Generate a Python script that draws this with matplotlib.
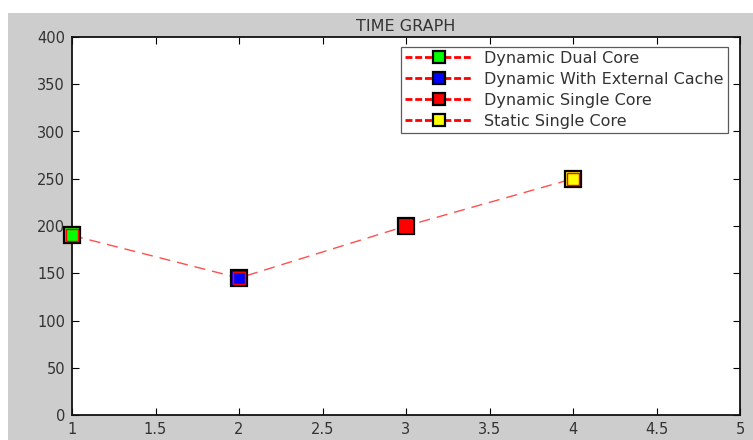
import matplotlib.pyplot as plt
import matplotlib.patches as patches

# data #########################################################################

cores = [1, 2, 3, 4]
times = [190, 145, 200, 250]
labels = ["Dynamic Dual Core", "Dynamic With External Cache",
          "Dynamic Single Core", "Static Single Core"]
colors = ["#00ff00", "#0000ff", "#ff0000", "#ffff00"]

xticks = [1, 1.5, 2, 2.5, 3, 3.5, 4, 4.5, 5]
xticklabels = ["1", "1.5", "2", "2.5", "3", "3.5", "4", "4.5", "5"]
yticks = list(range(0, 401, 50))

################################################################################

plt.rcParams["font.family"] = ["DejaVu Sans"]

figure = plt.figure(figsize=(7.53, 4.40), dpi=100)
figure.patch.set_facecolor("white")
# matlab style gray window background
figure.patches.append(patches.Rectangle((8 / 753, 0), 1, 1 - 13 / 440,
                                        transform=figure.transFigure,
                                        facecolor="#cdcdcd", edgecolor="none",
                                        zorder=-10))

ax = figure.add_axes([72 / 753, 25 / 440, 668 / 753, 378 / 440])
ax.set_facecolor("white")

textColor = "#333333"
ax.plot(cores, times, color="#ff3030", linestyle="--", dashes=(8, 5),
        linewidth=1.0, alpha=0.85, zorder=2)

for x, y, label, color in zip(cores, times, labels, colors):
  # outer marker, this one goes to the legend
  ax.plot([x], [y], color="red", linestyle="--", dashes=(2.5, 1),
          linewidth=2.0, marker="s", markersize=11.5, markerfacecolor=color,
          markeredgecolor="black", markeredgewidth=1.6, label=label,
          zorder=3, clip_on=False)
  # inner red ring like the matlab screenshot
  ax.plot([x], [y], linestyle="none", marker="s", markersize=9,
          markerfacecolor=color, markeredgecolor="red", markeredgewidth=1.0,
          zorder=4, clip_on=False)

ax.set_xlim(1, 5)
ax.set_ylim(0, 400)
ax.set_xticks(xticks)
ax.set_xticklabels(xticklabels)
ax.set_yticks(yticks)
ax.tick_params(direction="in", top=True, right=True, length=5, width=0.8,
               labelsize=10.5, labelcolor=textColor, pad=5)
for spine in ax.spines.values():
  spine.set_linewidth(1.3)
  spine.set_color("#111111")

ax.set_title("TIME GRAPH", fontsize=11.5, color=textColor, pad=4)

legend = ax.legend(loc="upper right", bbox_to_anchor=(0.982, 0.974),
                   fontsize=11.5, frameon=True, fancybox=False,
                   markerscale=0.8, handlelength=4.3, handletextpad=0.7,
                   borderpad=0.25, labelspacing=0.38, borderaxespad=0)
legend.get_frame().set_edgecolor("#333333")
legend.get_frame().set_linewidth(0.9)
for text in legend.get_texts():
  text.set_color(textColor)

plt.savefig("out.png", dpi=100)
plt.close()
